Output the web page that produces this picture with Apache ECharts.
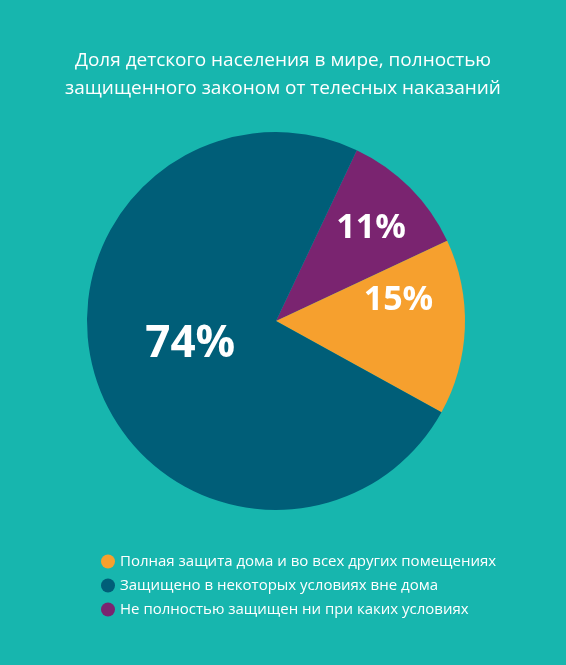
<!DOCTYPE html><html><head><meta charset="utf-8"><script src="https://cdn.jsdelivr.net/npm/echarts@6/dist/echarts.min.js"></script>
<style>html,body{margin:0;padding:0;background:#17b6ae}#c{width:566px;height:665px}</style></head><body><div id="c"></div><script>
const categories=['Не полностью защищен ни при каких условиях','Полная защита дома и во всех других помещениях','Защищено в некоторых условиях вне дома'];
const values=[11,15,74];
const colors=['#7a2470','#f6a02e','#005e78'];
const legendOrder=['Полная защита дома и во всех других помещениях','Защищено в некоторых условиях вне дома','Не полностью защищен ни при каких условиях'];
const labelSizes=[34,34,44];
const labelOffsets=[[26,-24],[25,-24],[7,-6]];
const chart=echarts.init(document.getElementById('c'));
chart.setOption({
 backgroundColor:'#17b6ae',
 title:{text:'Доля детского населения в мире, полностью\nзащищенного законом от телесных наказаний',left:'center',top:42,textStyle:{color:'#fff',fontSize:19,fontWeight:'normal',fontFamily:'Open Sans',lineHeight:28}},
 legend:{data:legendOrder,orient:'vertical',left:96,top:549,itemGap:9,icon:'circle',itemWidth:14,itemHeight:14,textStyle:{color:'#fff',fontSize:15,fontFamily:'Open Sans'}},
 series:[{type:'pie',center:[276,321],radius:[0,189],startAngle:64.7,clockwise:true,
  data:categories.map((n,i)=>({name:n,value:values[i],itemStyle:{color:colors[i]},label:{fontSize:labelSizes[i],offset:labelOffsets[i]}})),
  label:{show:true,position:'inside',formatter:'{c}%',color:'#fff',fontWeight:'bold',fontFamily:'Open Sans'},
  labelLine:{show:false},emphasis:{disabled:true}}]
});
</script></body></html>
